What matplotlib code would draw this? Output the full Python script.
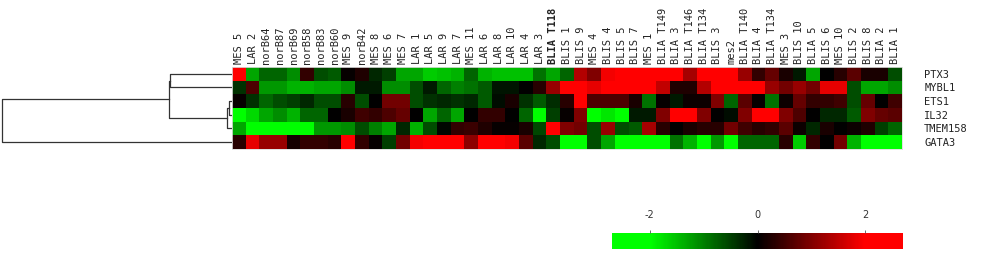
import numpy as np
import matplotlib
matplotlib.use('Agg')
import matplotlib.pyplot as plt
from matplotlib.colors import LinearSegmentedColormap

plt.rcParams['axes.unicode_minus'] = False

# sample (column) labels, left to right
samples = ['MES 5', 'LAR 2', 'norB64', 'norB87', 'norB69', 'norB58', 'norB83', 'norB60',
           'MES 9', 'norB42', 'MES 8', 'MES 6', 'MES 7', 'LAR 1', 'LAR 5', 'LAR 9', 'LAR 7',
           'MES 11', 'LAR 6', 'LAR 8', 'LAR 10', 'LAR 4', 'LAR 3', 'BLIA T118', 'BLIS 1',
           'BLIS 9', 'MES 4', 'BLIS 4', 'BLIS 5', 'BLIS 7', 'MES 1', 'BLIA T149', 'BLIA 3',
           'BLIA T146', 'BLIA T134', 'BLIS 3', 'mes2', 'BLIA T140', 'BLIA 4', 'BLIA T134',
           'MES 3', 'BLIS 10', 'BLIA 5', 'BLIS 6', 'MES 10', 'BLIS 2', 'BLIS 8', 'BLIA 2', 'BLIA 1']

genes = ['PTX3', 'MYBL1', 'ETS1', 'IL32', 'TMEM158', 'GATA3']

# expression values (z-scores) per gene
ptx3 = [2.5, -1.3, -0.8, -0.8, -1.1, 0.4, -0.6, -0.7, 0.05, 0.25, -0.3, -0.5, -1.3, -1.3, -1.6, -1.5, -1.4,
        -0.8, -1.4, -1.5, -1.5, -1.5, -0.9, -1.3, -0.8, 1.4, 1.0, 1.9, 2.5, 2.5, 2.5, 2.5, 2.5,
        1.3, 2.4, 2.4, 2.3, 1.2, 0.4, 0.8, 0.2, -0.2, -1.3, 0.0, 0.3, 0.7, 0.2, 0.2, -0.6]
mybl1 = [-0.4, 0.6, -1.2, -1.2, -1.4, -1.4, -1.3, -1.3, -1.1, -0.2, -0.2, -1.1, -1.1, -0.6, -0.2, -0.8, -1.0,
         -0.9, -0.7, -0.15, -0.15, 0.0, 0.3, 1.2, 2.4, 2.5, 1.8, 2.5, 2.5, 2.5, 2.0, 1.5, 0.25,
         0.25, 1.4, 2.0, 2.0, 2.6, 2.1, 1.2, 0.9, 1.2, 0.9, 1.8, 1.8, -0.6, -1.3, -1.3, -1.1]
ets1 = [0.05, -0.4, -0.8, -0.6, -0.5, -0.3, -0.6, -0.6, 0.3, -0.6, 0.0, 0.9, 0.9, -0.6, -0.4, -0.3, -0.4,
        -0.3, -0.7, -0.1, 0.2, -0.4, -0.7, -0.35, 0.3, 2.4, 0.6, 0.6, 0.6, 0.2, -0.9, 0.05, -0.2,
        0.1, 0.1, 1.0, -0.8, 0.7, 0.05, -0.9, 0.1, 0.8, 0.4, 0.4, 0.5, -0.6, 0.8, 0.0, 0.5]
il32 = [-2.5, -1.7, -1.3, -1.1, -1.4, -0.8, -0.8, 0.0, 0.2, 0.5, 0.4, 0.6, 0.8, 0.0, -1.3, -0.8, -1.3,
        0.0, 0.4, 0.4, 0.0, -0.8, -2.2, -0.5, 0.05, 1.0, -2.4, -1.8, -2.3, -0.2, -0.2, 1.0, 2.4,
        2.4, 1.0, 0.0, -0.1, 1.0, 2.3, 2.3, 1.0, 0.6, 0.0, -0.3, -0.3, -0.7, 1.0, 0.8, 0.7]
tmem158 = [-1.3, -2.5, -2.5, -2.5, -2.5, -2.5, -1.2, -1.2, -1.1, -0.6, -1.0, -1.3, -0.3, -1.4, -0.6, -0.05, 0.4,
           0.45, 0.25, 0.05, 0.05, 0.2, -0.55, 2.5, 1.0, 0.9, -0.6, 1.2, -0.6, -0.7, 1.3, 0.3, 0.0,
           0.2, 0.3, 0.3, 0.9, 0.5, 0.3, 0.4, 0.7, 0.1, -0.3, 0.2, 0.0, 0.1, 0.25, -0.5, -0.8]
gata3 = [0.3, 1.8, 1.2, 1.2, 0.15, 0.4, 0.4, 0.3, 2.4, 0.4, 0.05, -0.5, 0.9, 1.9, 2.3, 2.4, 2.4,
         1.1, 2.0, 2.0, 1.9, 0.7, -0.3, -0.6, -2.5, -2.5, -0.6, -1.3, -2.5, -2.5, -2.5, -2.5, -0.9,
         -1.4, -2.3, -1.2, -2.3, -0.8, -0.8, -0.8, 0.3, -1.6, 0.4, 0.0, 0.9, -1.4, -2.4, -2.4, -2.4]

# row clustering: (child a, child b, merge distance); leaves 0-5, new nodes 6, 7, ...
linkage = [(0, 1, 0.27), (2, 3, 0.013), (7, 4, 0.022), (6, 8, 0.274), (9, 5, 1.0)]

data = np.array([ptx3, mybl1, ets1, il32, tmem158, gata3])

cmap = LinearSegmentedColormap.from_list('gbr', [(0, '#00ff00'), (0.13, '#00ff00'), (0.5, '#000000'),
                                                 (0.87, '#ff0000'), (1, '#ff0000')])
vmin, vmax = -2.7, 2.7

W, H = 982, 260
fig = plt.figure(figsize=(W / 100, H / 100), dpi=100)

def box(x0, y0, x1, y1):
    return [x0 / W, 1 - y1 / H, (x1 - x0) / W, (y1 - y0) / H]

# heatmap
ax = fig.add_axes(box(232, 67, 902, 149))
im = ax.imshow(data, cmap=cmap, vmin=vmin, vmax=vmax, aspect='auto', interpolation='nearest')
ax.xaxis.tick_top()
ax.set_xticks(range(len(samples)))
ax.set_xticklabels(samples, rotation=90, fontsize=7.5, family='DejaVu Sans Mono', color='#222222')
for t in ax.get_xticklabels():
    if t.get_text() == 'BLIA T118':
        t.set_fontweight('bold')
ax.yaxis.tick_right()
ax.set_yticks(range(len(genes)))
ax.set_yticklabels(genes, fontsize=7.5, family='DejaVu Sans Mono', color='#222222')
ax.tick_params(length=0, pad=2)
ax.tick_params(axis='y', pad=16)
for s in ax.spines.values():
    s.set_color('#dddddd')
    s.set_linewidth(0.6)

# dendrogram
dax = fig.add_axes(box(0, 67, 232, 149))
pos = {i: (float(i), 0.0) for i in range(len(genes))}
node = len(genes)
for a, b, h in linkage:
    ya, ha = pos[a]
    yb, hb = pos[b]
    dax.plot([ha, h, h, hb], [ya, ya, yb, yb], color='#333333', lw=0.9)
    pos[node] = ((ya + yb) / 2, h)
    node += 1
dax.set_xlim(1.009, 0)
dax.set_ylim(len(genes) - 0.5, -0.5)
dax.axis('off')

# colour key
cax = fig.add_axes(box(612, 233, 903, 249))
cb = fig.colorbar(im, cax=cax, orientation='horizontal', ticks=[-2, 0, 2])
cb.outline.set_visible(False)
cax.xaxis.set_ticks_position('top')
cax.tick_params(labelsize=7, length=2, width=0.6, pad=7, color='#555555', labelcolor='#333333')

plt.savefig('out.png', dpi=100)
